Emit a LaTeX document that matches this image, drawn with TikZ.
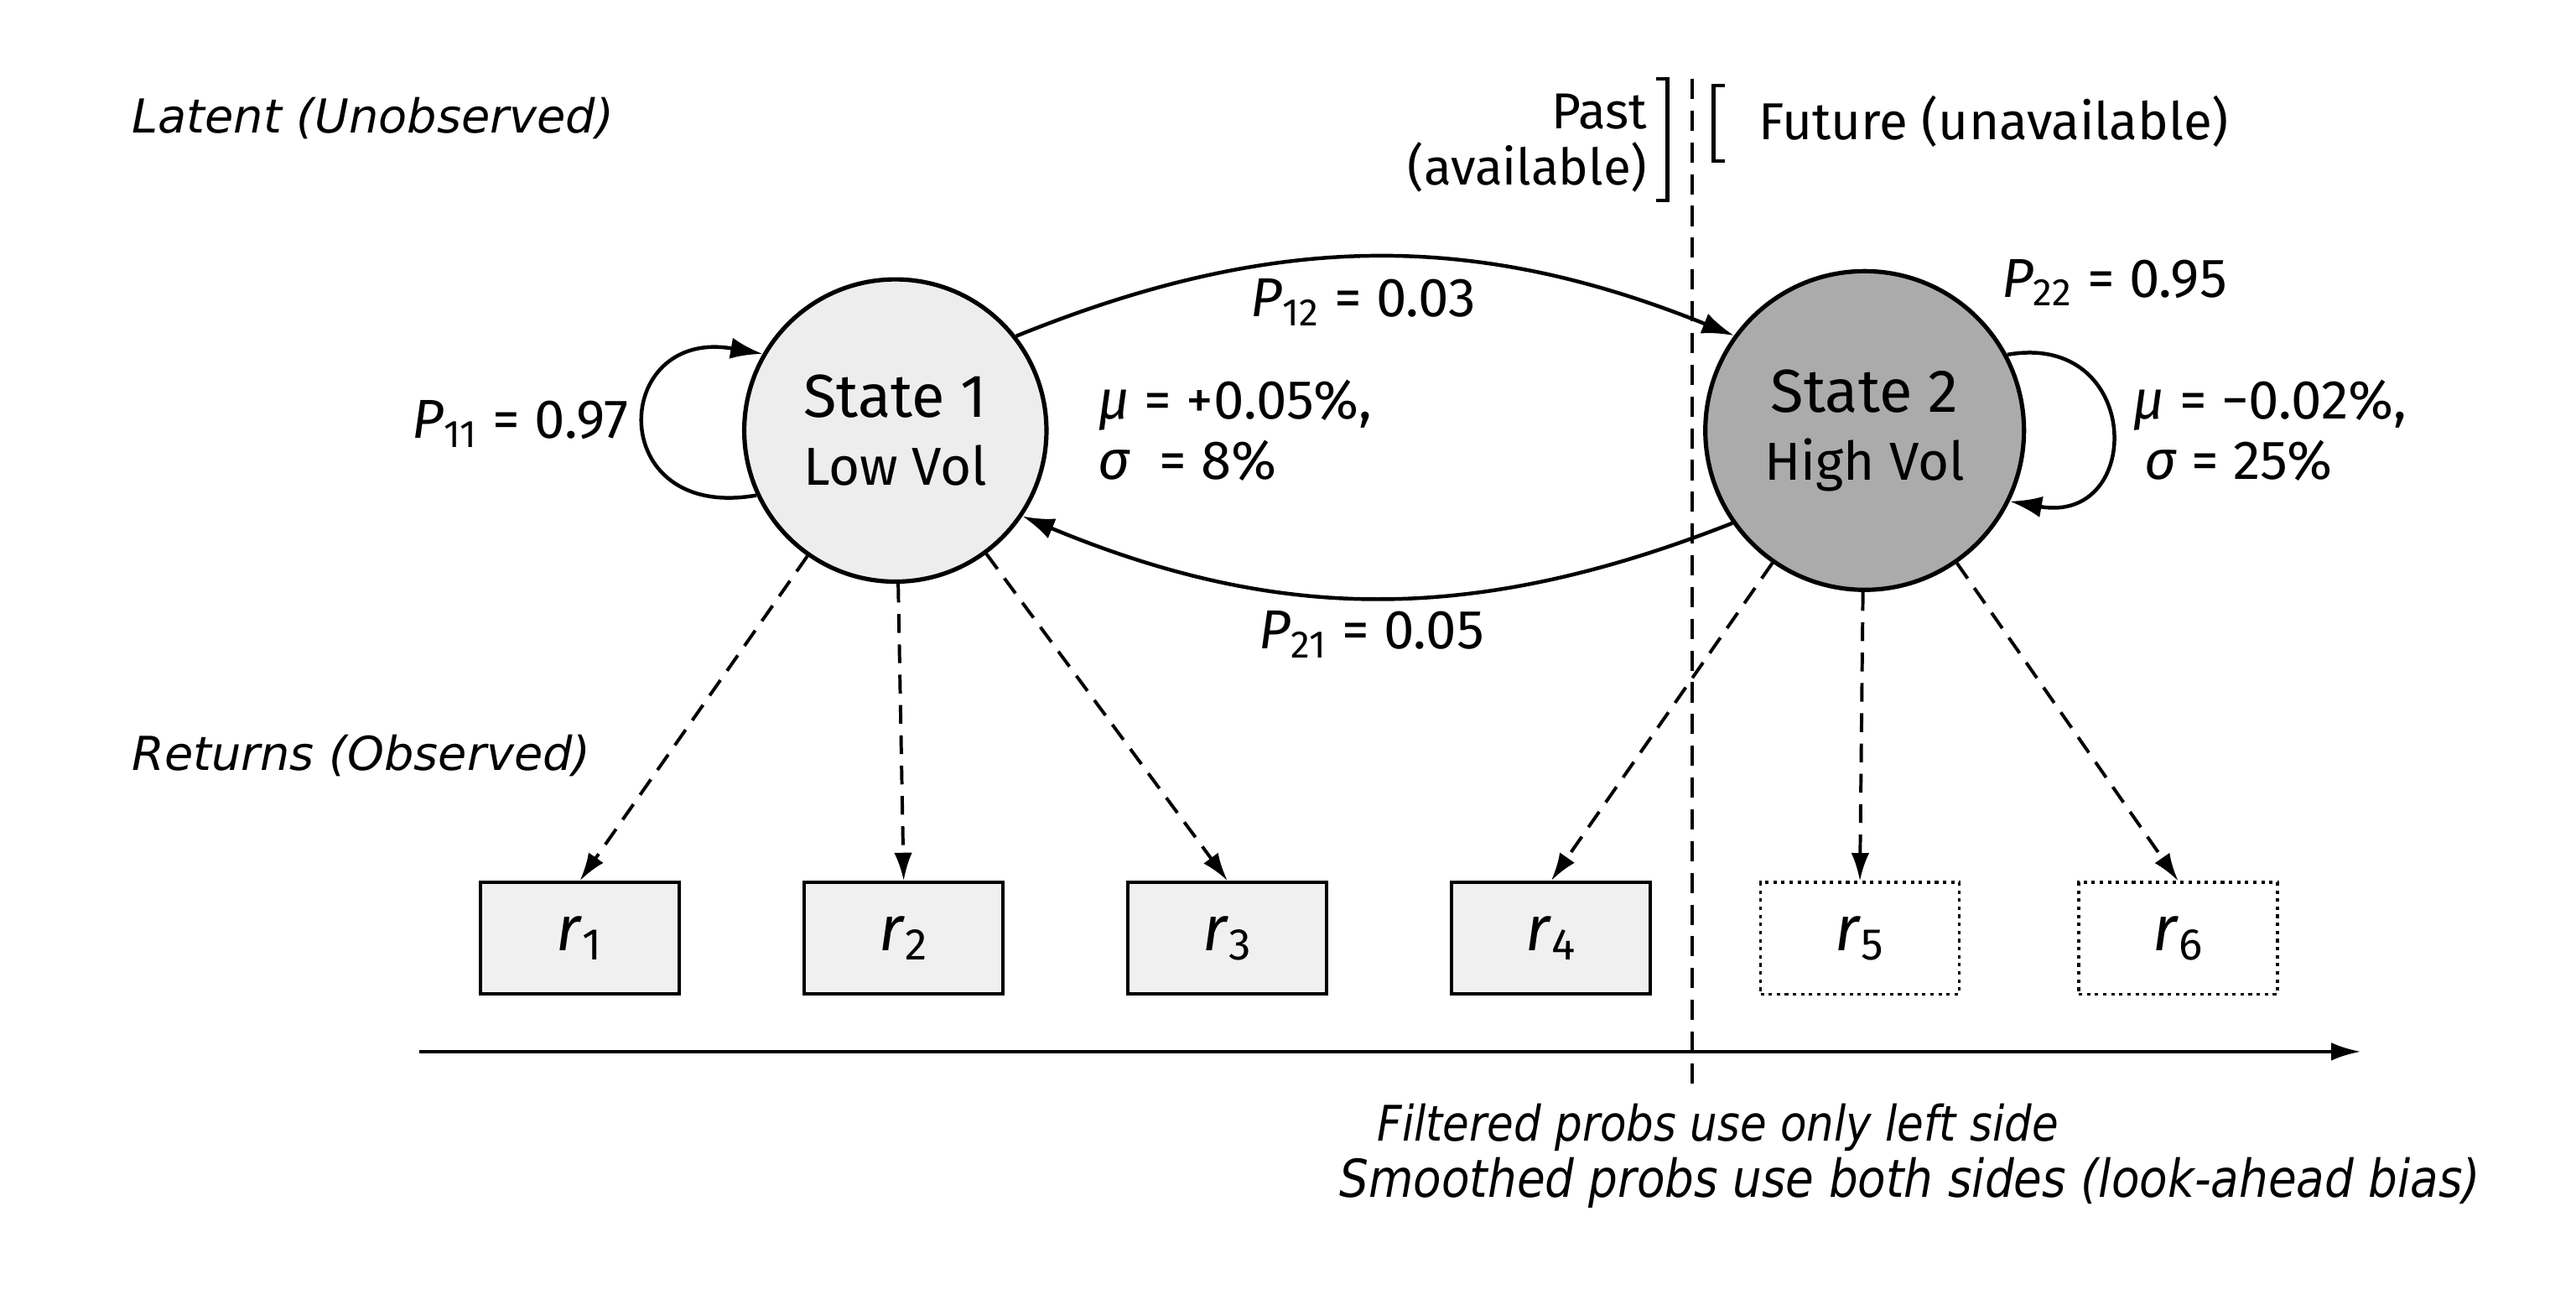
\documentclass[tikz,border=0pt]{standalone}
\usepackage{fontspec}
\setmainfont{Fira Sans}
\newfontfamily\sidefont{DejaVu Sans}
\newfontfamily\notefont[FakeStretch=0.88]{DejaVu Sans}
\usetikzlibrary{arrows.meta,positioning}

\begin{document}
\begin{tikzpicture}[
        x=0.02cm, y=-0.02cm,
        font=\fontsize{19}{22}\selectfont,
        node distance=1.48cm,
        >=Latex,
        lowstate/.style={circle, draw=black, fill=black!7, line width=1.5pt, minimum size=3.68cm, inner sep=0pt, align=center, font=\fontsize{21}{23.5}\selectfont},
        highstate/.style={circle, draw=black, fill=black!33, line width=1.5pt, minimum size=3.88cm, inner sep=0pt, align=center, font=\fontsize{21}{23.5}\selectfont},
        obsbox/.style={draw=black, fill=black!6, line width=1.2pt, minimum width=2.42cm, minimum height=1.36cm, inner sep=0pt, font=\fontsize{22}{24}\selectfont},
        futbox/.style={obsbox, fill=white, line width=1pt, dash pattern=on 1.2pt off 1.6pt},
        side/.style={anchor=west, inner sep=0pt, font=\sidefont\itshape\fontsize{16.2}{19}\selectfont},
        note/.style={anchor=west, inner sep=0pt, font=\notefont\itshape\fontsize{17}{20}\selectfont},
        param/.style={align=left, anchor=west, inner sep=0pt, font=\fontsize{19}{21}\selectfont},
        prob/.style={inner sep=0pt},
        link/.style={draw=black, line width=1.3pt, -{Latex[length=3.9mm,width=2.6mm]}},
        emit/.style={draw=black, line width=1.15pt, dash pattern=on 6.5pt off 4pt, -{Latex[length=3.4mm,width=2.2mm]}},
        divide/.style={draw=black, line width=1pt, dash pattern=on 7pt off 4pt}
    ]
        \useasboundingbox (0,0) rectangle (1568,794);

        % layer labels
        \node[side] (latentlbl) at (80,72) {Latent (Unobserved)};
        \node[side] (returnslbl) at (80,460) {Returns (Observed)};

        % hidden states
        \node[lowstate] (lownode) at (545,262) {State 1\\{\fontsize{18.5}{20}\selectfont Low Vol}};
        \node[highstate] (highnode) at (1135,262) {State 2\\{\fontsize{18.5}{20}\selectfont High Vol}};

        \node[prob, anchor=east] (p11node) at (383,258) {\textit{P}\textsubscript{11} = 0.97};
        \node[prob] (p12node) at (830,184) {\textit{P}\textsubscript{12} = 0.03};
        \node[prob] (p21node) at (835,386) {\textit{P}\textsubscript{21} = 0.05};
        \node[prob] (p22node) at (1287,172) {\textit{P}\textsubscript{22} = 0.95};

        \node[param] (lowparam) at (668,262) {\textit{μ} = +0.05\%,\\\textit{σ}\ \ = 8\%};
        \node[param] (highparam) at (1298,262) {\textit{μ} = −0.02\%,\\\hspace{4pt}\textit{σ} = 25\%};

        % observed returns
        \node[obsbox] (rnode1) at (353,571) {\textit{r}\textsubscript{1}};
        \node[obsbox, right=of rnode1] (rnode2) {\textit{r}\textsubscript{2}};
        \node[obsbox, right=of rnode2] (rnode3) {\textit{r}\textsubscript{3}};
        \node[obsbox, right=of rnode3] (rnode4) {\textit{r}\textsubscript{4}};
        \node[futbox, right=1.3cm of rnode4] (rnode5) {\textit{r}\textsubscript{5}};
        \node[futbox, right=1.42cm of rnode5] (rnode6) {\textit{r}\textsubscript{6}};

        % past / future split
        \coordinate (divtop) at (1030,48);
        \coordinate (divbot) at (1030,665);
        \draw[divide] (divtop) -- (divbot);
        \draw[line width=1.3pt] (1008,48) -- (1015,48) -- (1015,122) -- (1008,122);
        \draw[line width=1.3pt] (1050,52) -- (1043,52) -- (1043,98) -- (1050,98);
        \node[align=right, anchor=east, inner sep=0pt, font=\fontsize{17.5}{19.5}\selectfont] (pastlbl) at (1003,87) {Past\\(available)};
        \node[anchor=west, inner sep=0pt, font=\fontsize{18}{20}\selectfont] (futurelbl) at (1070,74) {Future (unavailable)};

        % time axis
        \coordinate (axstart) at (255,640);
        \coordinate (axend) at (1437,640);
        \draw[line width=1.2pt, -{Latex[length=3.6mm,width=2.2mm]}] (axstart) -- (axend);

        \node[note] (filtnote) at (838,686) {Filtered probs use only left side};
        \node[note, font=\notefont\itshape\fontsize{18.1}{20}\selectfont] (smoothnote) at (815,720) {Smoothed probs use both sides (look-ahead bias)};

        % transitions
        \draw[link] (lownode.38) to[bend left=22] (highnode.144);
        \draw[link] (highnode.215) to[bend left=22] (lownode.326);
        \draw[link] (lownode.205) to[out=190, in=170, looseness=2.8] (lownode.150);
        \draw[link] (highnode.28) to[out=10, in=-10, looseness=2.4] (highnode.-26);

        % emissions
        \draw[emit] (lownode) -- (rnode1.north);
        \draw[emit] (lownode) -- (rnode2.north);
        \draw[emit] (lownode) -- (rnode3.north);
        \draw[emit] (highnode) -- (rnode4.north);
        \draw[emit] (highnode) -- (rnode5.north);
        \draw[emit] (highnode) -- (rnode6.north);
    \end{tikzpicture}
\end{document}
